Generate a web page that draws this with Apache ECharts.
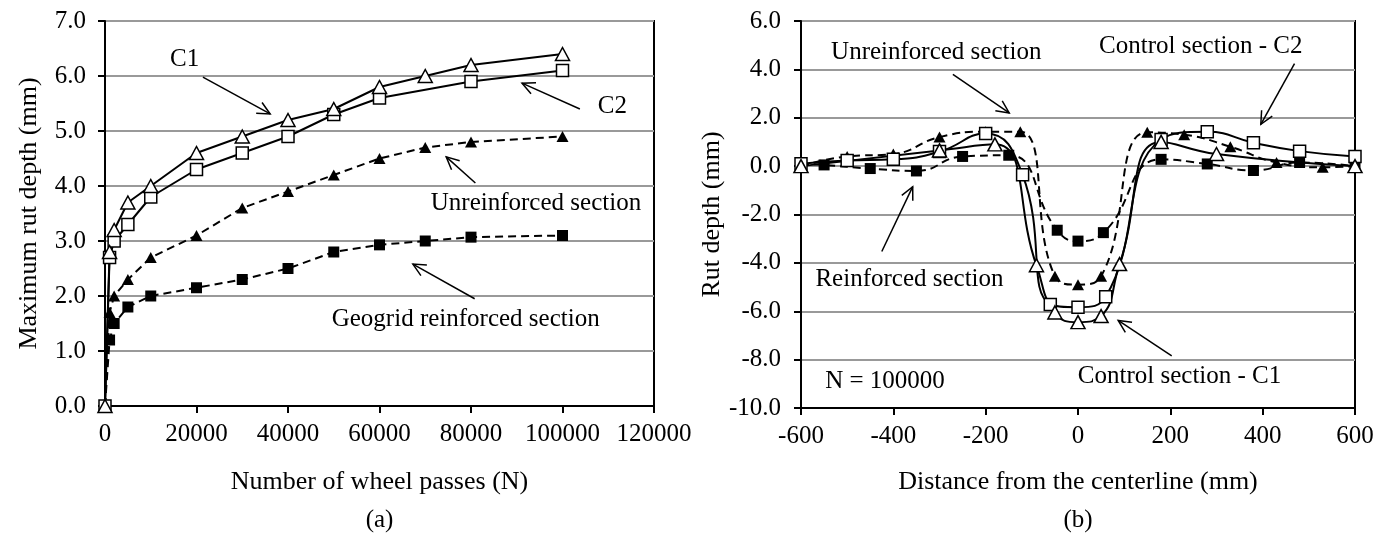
<!DOCTYPE html>
<html>
<head>
<meta charset="utf-8">
<script src="https://cdn.jsdelivr.net/npm/echarts@6/dist/echarts.min.js"></script>
<style>
  html, body { margin: 0; background: #fff; }
  #chart { width: 1392px; height: 533px; }
</style>
</head>
<body>
<div id="chart"></div>
<script>
// (a) maximum rut depth vs number of wheel passes
const passes = [0, 1000, 2000, 5000, 10000, 20000, 30000, 40000, 50000, 60000, 70000, 80000, 100000];
const c1Depth = [0, 2.8, 3.2, 3.7, 4.0, 4.6, 4.9, 5.2, 5.4, 5.8, 6.0, 6.2, 6.4];
const c2Passes = [0, 1000, 2000, 5000, 10000, 20000, 30000, 40000, 50000, 60000, 80000, 100000];
const c2Depth = [0, 2.7, 3.0, 3.3, 3.8, 4.3, 4.6, 4.9, 5.3, 5.6, 5.9, 6.1];
const unreinfDepth = [0, 1.7, 2.0, 2.3, 2.7, 3.1, 3.6, 3.9, 4.2, 4.5, 4.7, 4.8, 4.9];
const reinfDepth = [0, 1.2, 1.5, 1.8, 2.0, 2.15, 2.3, 2.5, 2.8, 2.93, 3.0, 3.07, 3.1];

// (b) rut profile across the section at N = 100000
const c1X = [-600, -300, -180, -90, -50, 0, 50, 90, 180, 300, 600];
const c1Rut = [0.0, 0.65, 0.9, -4.1, -6.05, -6.45, -6.2, -4.05, 1.0, 0.5, 0.0];
const c2X = [-600, -500, -400, -300, -200, -120, -60, 0, 60, 180, 280, 380, 480, 600];
const c2Rut = [0.1, 0.23, 0.28, 0.6, 1.35, -0.36, -5.72, -5.83, -5.4, 1.1, 1.42, 0.97, 0.62, 0.4];
const unX = [-600, -500, -400, -300, -200, -125, -50, 0, 50, 150, 230, 330, 430, 530, 600];
const unRut = [0.0, 0.4, 0.5, 1.2, 1.42, 1.42, -4.55, -4.9, -4.55, 1.4, 1.3, 0.8, 0.15, -0.05, 0.0];
const reX = [-600, -550, -450, -350, -250, -150, -45, 0, 55, 180, 280, 380, 480, 600];
const reRut = [0.1, 0.05, -0.1, -0.2, 0.4, 0.45, -2.65, -3.1, -2.75, 0.28, 0.09, -0.18, 0.15, 0.0];

const FONT = '"Liberation Serif", "Times New Roman", serif';
const zip = (xs, ys) => xs.map((x, i) => [x, ys[i]]);

const openTri = { symbol: 'triangle', symbolSize: [14, 13], itemStyle: { color: '#fff', borderColor: '#000', borderWidth: 1.5 } };
const openSq = { symbol: 'rect', symbolSize: 12, itemStyle: { color: '#fff', borderColor: '#000', borderWidth: 1.5 } };
const fullTri = { symbol: 'triangle', symbolSize: [12, 11], itemStyle: { color: '#000' } };
const fullSq = { symbol: 'rect', symbolSize: 11, itemStyle: { color: '#000' } };
const solid = { color: '#000', width: 2, type: 'solid' };
const dashed = { color: '#000', width: 2, type: [8, 5] };

function mkSeries(name, idx, data, marker, line, smooth) {
  return Object.assign({
    name, type: 'line', xAxisIndex: idx, yAxisIndex: idx, data,
    smooth, showSymbol: true, lineStyle: line, animation: false
  }, marker);
}

function axisBase(fmt, margin) {
  return {
    axisLine: { onZero: false, lineStyle: { color: '#000', width: 2 } },
    axisTick: { inside: false, length: 7, lineStyle: { color: '#000', width: 2 } },
    axisLabel: { color: '#000', fontFamily: FONT, fontSize: 25, margin, formatter: fmt },
    nameLocation: 'middle',
    nameTextStyle: { color: '#000', fontFamily: FONT, fontSize: 26 },
    splitLine: { show: false }
  };
}
const plain = v => String(v);
const oneDec = v => v.toFixed(1);

const option = {
  backgroundColor: '#fff',
  animation: false,
  grid: [
    { left: 105, top: 21, width: 549, height: 385, show: true, borderColor: '#000', borderWidth: 2, backgroundColor: 'transparent' },
    { left: 801, top: 21, width: 554, height: 387, show: true, borderColor: '#000', borderWidth: 2, backgroundColor: 'transparent' }
  ],
  xAxis: [
    Object.assign(axisBase(plain, 16), {
      type: 'value', gridIndex: 0, min: 0, max: 120000, interval: 20000,
      name: 'Number of wheel passes (N)', nameGap: 63
    }),
    Object.assign(axisBase(plain, 16), {
      type: 'value', gridIndex: 1, min: -600, max: 600, interval: 200,
      name: 'Distance from the centerline (mm)', nameGap: 61
    })
  ],
  yAxis: [
    Object.assign(axisBase(oneDec, 19), {
      type: 'value', gridIndex: 0, min: 0, max: 7, interval: 1,
      name: 'Maximum rut depth (mm)', nameGap: 63,
      splitLine: { show: true, lineStyle: { color: '#999', width: 2 } }
    }),
    Object.assign(axisBase(oneDec, 20), {
      type: 'value', gridIndex: 1, min: -10, max: 6, interval: 2,
      name: 'Rut depth (mm)', nameGap: 75,
      splitLine: { show: true, lineStyle: { color: '#999', width: 2 } }
    })
  ],
  series: [
    mkSeries('Geogrid reinforced section', 0, zip(passes, reinfDepth), fullSq, dashed, false),
    mkSeries('Unreinforced section', 0, zip(passes, unreinfDepth), fullTri, dashed, false),
    mkSeries('C2', 0, zip(c2Passes, c2Depth), openSq, solid, false),
    mkSeries('C1', 0, zip(passes, c1Depth), openTri, solid, false),

    mkSeries('Reinforced section', 1, zip(reX, reRut), fullSq, dashed, 0.5),
    mkSeries('Unreinforced section', 1, zip(unX, unRut), fullTri, dashed, 0.5),
    mkSeries('Control section - C2', 1, zip(c2X, c2Rut), openSq, solid, 0.5),
    mkSeries('Control section - C1', 1, zip(c1X, c1Rut), openTri, solid, 0.5)
  ]
};

const chart = echarts.init(document.getElementById('chart'));
chart.setOption(option);

// annotations, placed in data space of each panel
const notesA = [
  { text: 'C1', at: [17400, 6.3] },
  { text: 'C2', at: [110900, 5.45] },
  { text: 'Unreinforced section', at: [94200, 3.675] },
  { text: 'Geogrid reinforced section', at: [78840, 1.575] }
];
const arrowsA = [
  [[21400, 5.98], [36100, 5.31]],
  [[103800, 5.40], [91150, 5.87]],
  [[80960, 4.055], [74580, 4.53]],
  [[80800, 1.95], [67300, 2.58]]
];
const notesB = [
  { text: 'Unreinforced section', at: [-307, 4.72] },
  { text: 'Control section - C2', at: [266, 4.93] },
  { text: 'Reinforced section', at: [-365, -4.7] },
  { text: 'N = 100000', at: [-418, -8.9] },
  { text: 'Control section - C1', at: [220, -8.69] }
];
const arrowsB = [
  [[-271, 3.79], [-149, 2.2]],
  [[469, 4.24], [396, 1.73]],
  [[-425, -3.53], [-358, -0.85]],
  [[203, -7.84], [87, -6.38]]
];

const graphics = [];
const lineStyle = { stroke: '#000', lineWidth: 1.5, fill: null };

function addNotes(gridIndex, notes) {
  notes.forEach(n => {
    const p = chart.convertToPixel({ gridIndex }, n.at);
    graphics.push({
      type: 'text', x: p[0], y: p[1], z: 10,
      style: { text: n.text, fontFamily: FONT, fontSize: 25, fill: '#000', align: 'center', verticalAlign: 'middle' }
    });
  });
}

function addArrows(gridIndex, arrows) {
  arrows.forEach(a => {
    const s = chart.convertToPixel({ gridIndex }, a[0]);
    const e = chart.convertToPixel({ gridIndex }, a[1]);
    const ang = Math.atan2(s[1] - e[1], s[0] - e[0]);
    const len = 14, spread = 0.45;
    const h1 = [e[0] + len * Math.cos(ang + spread), e[1] + len * Math.sin(ang + spread)];
    const h2 = [e[0] + len * Math.cos(ang - spread), e[1] + len * Math.sin(ang - spread)];
    graphics.push({ type: 'polyline', z: 10, shape: { points: [s, e] }, style: lineStyle });
    graphics.push({ type: 'polyline', z: 10, shape: { points: [h1, e, h2] }, style: lineStyle });
  });
}

addNotes(0, notesA);
addArrows(0, arrowsA);
addNotes(1, notesB);
addArrows(1, arrowsB);

// panel captions
graphics.push({ type: 'text', x: 379.5, y: 520, style: { text: '(a)', fontFamily: FONT, fontSize: 25, fill: '#000', align: 'center', verticalAlign: 'middle' } });
graphics.push({ type: 'text', x: 1078, y: 520, style: { text: '(b)', fontFamily: FONT, fontSize: 25, fill: '#000', align: 'center', verticalAlign: 'middle' } });

chart.setOption({ graphic: graphics });
</script>
</body>
</html>
